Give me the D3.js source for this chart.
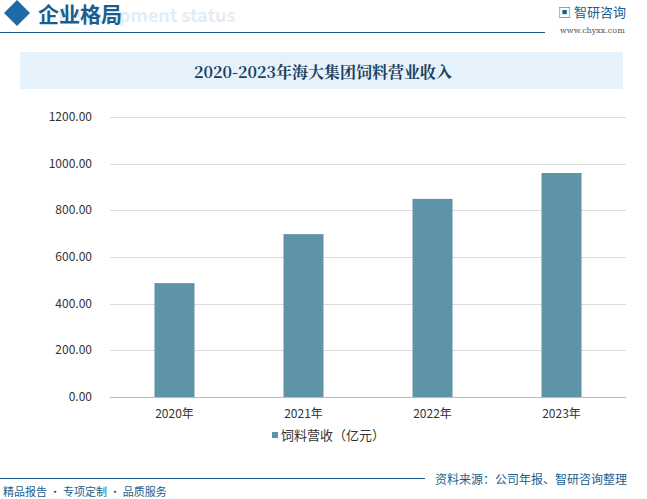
<!DOCTYPE html>
<html><head><meta charset="utf-8">
<script src="https://cdn.jsdelivr.net/npm/d3@7"></script>
<style>body{margin:0;background:#fff}svg{font-family:"Noto Sans CJK SC","Noto Sans",sans-serif}</style>
</head><body><svg id="c" width="647" height="499"></svg>
<script>
var years = ["2020年", "2021年", "2022年", "2023年"];
var revenue = [488, 698, 849, 960];
var yTicks = [0, 200, 400, 600, 800, 1000, 1200];

var svg = d3.select("#c");
var blue = "#1a5d8c";

// header
svg.append("path").attr("d", "M17,0 L30,13 L17,26 L4,13Z").attr("fill", "#1f6aa5");
svg.append("text").attr("x", 58).attr("y", 22).attr("font-size", 18).attr("font-weight", "bold")
    .attr("fill", "#e3edf5").text("Development status");
svg.append("text").attr("x", 38).attr("y", 22).attr("font-size", 21).attr("font-weight", "bold")
    .attr("fill", blue).text("企业格局");
svg.append("line").attr("x1", 0).attr("x2", 545).attr("y1", 32.5).attr("y2", 32.5).attr("stroke", blue);
svg.append("text").attr("x", 558).attr("y", 17).attr("font-size", 13).attr("fill", blue).text("▣ 智研咨询");
svg.append("text").attr("x", 560).attr("y", 33).attr("font-size", 8).attr("fill", "#555")
    .attr("font-family", "DejaVu Serif").text("www.chyxx.com");

// title box
svg.append("rect").attr("x", 20).attr("y", 52).attr("width", 603).attr("height", 37).attr("fill", "#e6f2fb");
svg.append("text").attr("x", 323).attr("y", 78).attr("text-anchor", "middle").attr("font-size", 16)
    .attr("font-weight", "bold").attr("font-family", "Noto Serif CJK SC,Noto Sans CJK SC,serif")
    .attr("fill", "#1d3f5e").text("2020-2023年海大集团饲料营业收入");

// chart
var x = d3.scaleBand().domain(years).range([110, 626]).paddingInner(0.69).paddingOuter(0.345);
var y = d3.scaleLinear().domain([0, 1200]).range([397, 117]);

svg.append("g").selectAll("line").data(yTicks).enter().append("line")
    .attr("x1", 110).attr("x2", 626).attr("y1", function(d) { return Math.round(y(d)) + 0.5; })
    .attr("y2", function(d) { return Math.round(y(d)) + 0.5; })
    .attr("stroke", function(d) { return d === 0 ? "#bbb" : "#dcdcdc"; });

svg.append("g").selectAll("text").data(yTicks).enter().append("text")
    .attr("x", 92).attr("y", function(d) { return y(d) + 4; }).attr("text-anchor", "end")
    .attr("font-size", 12).attr("fill", "#333").text(function(d) { return d.toFixed(2); });

svg.append("g").selectAll("rect").data(revenue).enter().append("rect")
    .attr("x", function(d, i) { return x(years[i]); }).attr("width", x.bandwidth())
    .attr("y", function(d) { return y(d); }).attr("height", function(d) { return y(0) - y(d); })
    .attr("fill", "#5e93a8");

svg.append("g").selectAll("text").data(years).enter().append("text")
    .attr("x", function(d) { return x(d) + x.bandwidth() / 2; }).attr("y", 418)
    .attr("text-anchor", "middle").attr("font-size", 12).attr("fill", "#333").text(function(d) { return d; });

// legend
svg.append("rect").attr("x", 272).attr("y", 432).attr("width", 6).attr("height", 6).attr("fill", "#5e93a8");
svg.append("text").attr("x", 281).attr("y", 440).attr("font-size", 13).attr("fill", "#333").text("饲料营收（亿元）");

// footer
svg.append("line").attr("x1", 0).attr("x2", 425).attr("y1", 478.5).attr("y2", 478.5).attr("stroke", blue);
svg.append("text").attr("x", 435).attr("y", 484).attr("font-size", 12).attr("fill", blue).text("资料来源：公司年报、智研咨询整理");
svg.append("text").attr("x", 3).attr("y", 496).attr("font-size", 11).attr("fill", blue).text("精品报告 · 专项定制 · 品质服务");
</script></body></html>
